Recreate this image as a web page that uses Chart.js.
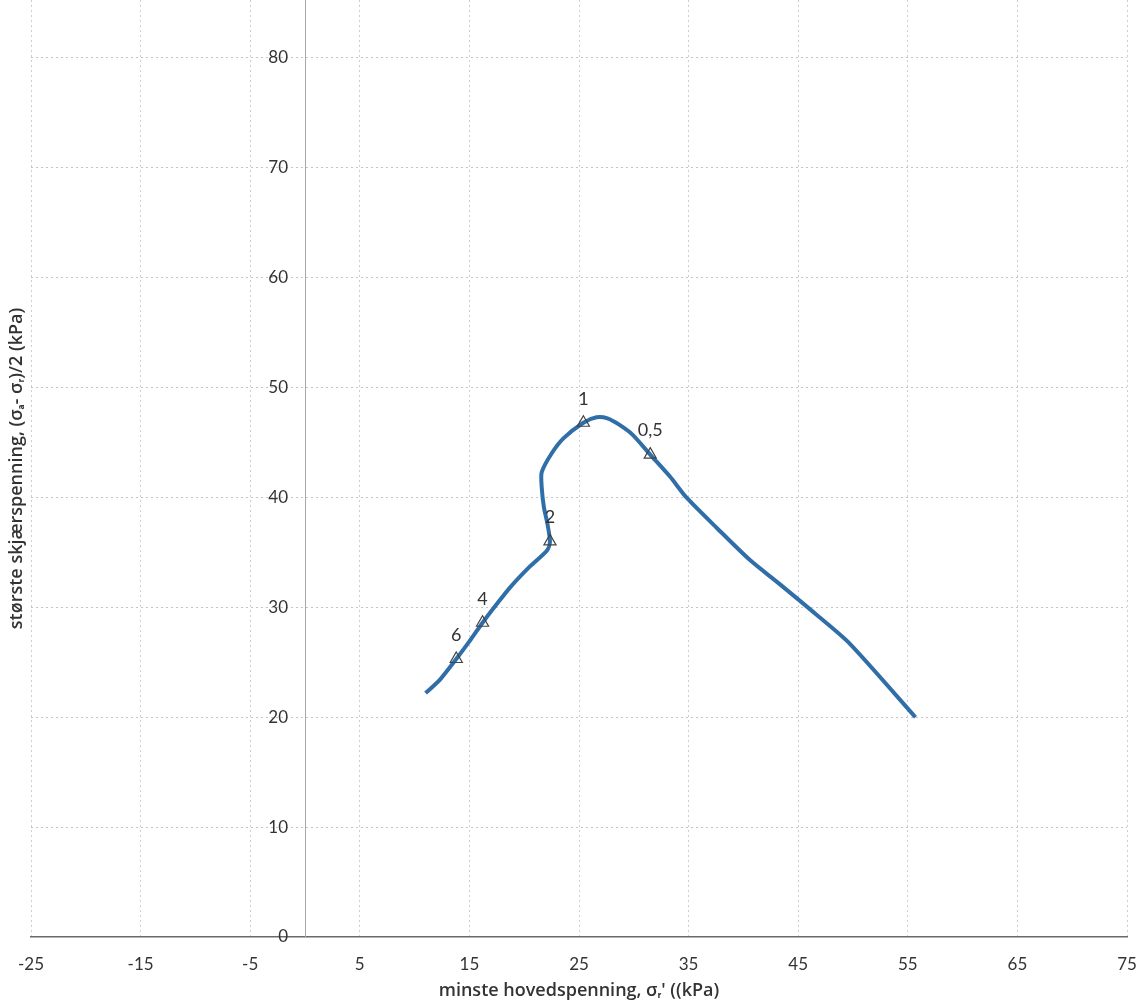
<!DOCTYPE html>
<html>
<head>
<meta charset="utf-8">
<script src="https://cdn.jsdelivr.net/npm/chart.js@4.4.1/dist/chart.umd.min.js"></script>
<style>
html,body{margin:0;padding:0;background:#fff;}
#wrap{width:1141px;height:1005px;position:relative;}
</style>
</head>
<body>
<div id="wrap"><canvas id="c" width="1141" height="1005"></canvas></div>
<script>
// ---- data ----
const pathX = [11.0, 12.3, 13.8, 15.0, 16.2, 17.5, 18.7, 20.5, 22.1, 22.35, 22.1, 21.8, 21.6, 21.6, 22.5, 23.6, 25.4, 26.6, 27.6, 28.7, 29.9, 31.5, 33.3, 34.8, 37.6, 40.6, 43.2, 46.7, 49.7, 55.7];
const pathY = [22.2, 23.4, 25.3, 26.9, 28.6, 30.3, 31.8, 33.7, 35.2, 36.0, 37.7, 39.1, 40.9, 42.3, 44.0, 45.4, 46.8, 47.3, 47.2, 46.6, 45.7, 43.9, 41.9, 40.0, 37.2, 34.3, 32.2, 29.3, 26.7, 20.0];
const markerX = [13.8, 16.2, 22.35, 25.4, 31.5];
const markerY = [25.3, 28.6, 36.0, 46.8, 43.9];
const markerLabels = ['6', '4', '2', '1', '0,5'];
const xTicks = [-25, -15, -5, 5, 15, 25, 35, 45, 55, 65, 75];
const yTicks = [0, 10, 20, 30, 40, 50, 60, 70, 80];
const xTitle = "minste hovedspenning, σᵣ' ((kPa)";
const yTitle = "største skjærspenning, (σₐ- σᵣ)/2 (kPa)";
const xMin = -25, xMax = 75, yMin = 0, yMax = 85.27;
const yAxisAt = 0;          // vertical axis crosses at x = 0
const yLabelsAt = -1.55;    // tick labels end just left of it

const FONT = 'Lato, "Open Sans", sans-serif';
const TFONT = '"Open Sans", Lato, sans-serif';

const markerLabelPlugin = {
  id: 'markerLabels',
  afterDatasetsDraw(chart) {
    const ctx = chart.ctx;
    const xs = chart.scales.x, ys = chart.scales.y;
    ctx.save();
    ctx.font = '18px ' + FONT;
    ctx.fillStyle = '#333';
    ctx.textAlign = 'center';
    ctx.textBaseline = 'middle';
    markerLabels.forEach((t, i) => {
      const px = xs.getPixelForValue(markerX[i]);
      const py = ys.getPixelForValue(markerY[i]);
      ctx.fillText(t, px, py - 24);
    });
    ctx.restore();
  }
};

function zeroPad(s) { s.paddingTop = 0; s.paddingBottom = 0; s.paddingLeft = 0; s.paddingRight = 0; }

new Chart(document.getElementById('c'), {
  type: 'scatter',
  data: {
    datasets: [
      {
        data: pathX.map((x, i) => ({x: x, y: pathY[i]})),
        showLine: true,
        borderColor: '#2f6ea8',
        borderWidth: 4,
        pointRadius: 0,
        tension: 0.25,
        fill: false,
        order: 2
      },
      {
        data: markerX.map((x, i) => ({x: x, y: markerY[i]})),
        showLine: false,
        pointStyle: 'triangle',
        pointRadius: 7,
        pointBorderColor: '#444',
        pointBackgroundColor: 'rgba(255,255,255,0)',
        pointBorderWidth: 1.2,
        order: 1
      }
    ]
  },
  options: {
    responsive: false,
    devicePixelRatio: 1,
    animation: false,
    layout: {autoPadding: false, padding: {left: 4, right: 14, top: 0, bottom: 0}},
    plugins: {legend: {display: false}, tooltip: {enabled: false}},
    scales: {
      x: {
        type: 'linear',
        position: 'bottom',
        min: xMin, max: xMax,
        afterBuildTicks: a => { a.ticks = xTicks.map(v => ({value: v})); },
        afterFit: s => { zeroPad(s); s.height = 68; },
        grid: {color: '#c3d0de', drawTicks: false, lineWidth: 1},
        border: {display: true, color: '#6a6a6a', width: 1.5, dash: [2, 3]},
        ticks: {padding: 17, font: {size: 17, family: FONT}, color: '#333'},
        title: {display: true, text: xTitle, font: {size: 18, family: TFONT, weight: '600'}, color: '#333', padding: {top: 8, bottom: 3}}
      },
      y: {
        type: 'linear',
        position: 'left',
        min: yMin, max: yMax,
        afterBuildTicks: a => { a.ticks = yTicks.map(v => ({value: v})); },
        afterFit: s => { zeroPad(s); s.width = 27; },
        grid: {color: c => (c.tick && c.tick.value === 0) ? 'rgba(0,0,0,0)' : '#c4c4c4', drawTicks: false, lineWidth: 1},
        border: {display: false, dash: [2, 3]},
        ticks: {display: false},
        title: {display: true, text: yTitle, font: {size: 18, family: TFONT, weight: '600'}, color: '#333', padding: {top: 2, bottom: 4}}
      },
      y2: {
        type: 'linear',
        position: {x: yAxisAt},
        min: yMin, max: yMax,
        afterBuildTicks: a => { a.ticks = yTicks.map(v => ({value: v})); },
        afterFit: s => { zeroPad(s); },
        grid: {display: false, drawTicks: false},
        border: {display: true, color: '#a8a8a8', width: 1},
        ticks: {display: false}
      },
      y3: {
        type: 'linear',
        position: {x: yLabelsAt},
        min: yMin, max: yMax,
        afterBuildTicks: a => { a.ticks = yTicks.map(v => ({value: v})); },
        afterFit: s => { zeroPad(s); },
        grid: {display: false, drawTicks: false},
        border: {display: false},
        ticks: {padding: 0, font: {size: 17, family: FONT}, color: '#333'}
      }
    }
  },
  plugins: [markerLabelPlugin]
});
</script>
</body>
</html>
